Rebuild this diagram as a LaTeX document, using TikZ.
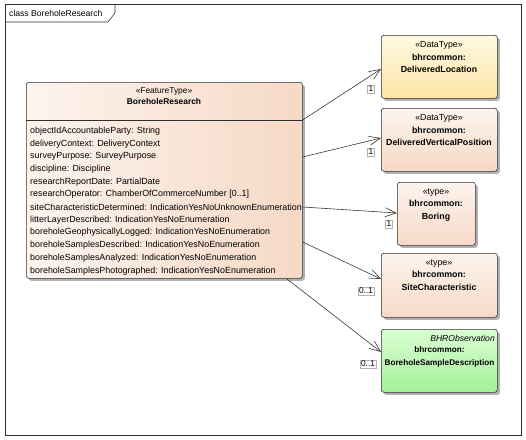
\documentclass[tikz,border=0pt]{standalone}
\usepackage{fontspec}
\setmainfont{Liberation Sans}
\usetikzlibrary{arrows.meta,shadows}
\definecolor{peachA}{HTML}{FDF4EE}
\definecolor{peachB}{HTML}{F6D9C6}
\definecolor{yelA}{HTML}{FFF9E2}
\definecolor{yelB}{HTML}{FBE5A4}
\definecolor{grnA}{HTML}{DAFFD4}
\definecolor{grnB}{HTML}{A4F098}
\definecolor{edge}{HTML}{303030}
\definecolor{conn}{HTML}{383838}
\tikzset{
  umlbox/.style={draw=edge, line width=0.6pt, rounded corners=2.5pt, anchor=north west, inner sep=0pt,
    drop shadow={shadow xshift=2.5pt, shadow yshift=-2.5pt, fill=black!30, opacity=1}},
  peachbox/.style={umlbox, top color=peachA, bottom color=peachB},
  yelbox/.style={umlbox, top color=yelA, bottom color=yelB},
  grnbox/.style={umlbox, top color=grnA, bottom color=grnB},
  attr/.style={anchor=west, inner sep=0pt, font=\fontsize{8.9}{10}\selectfont},
  hdr/.style={anchor=north, align=center, inner sep=0pt, font=\fontsize{8.8}{12.6}\selectfont},
  assoc/.style={draw=conn, line width=0.6pt, -{Straight Barb[length=11pt,width=9pt,line width=0.6pt]}},
  mult/.style={draw=black!30, line width=0.4pt, inner sep=1pt, font=\fontsize{8.4}{9}\selectfont}
}
\begin{document}
\begin{tikzpicture}[x=1pt,y=-1pt]
\useasboundingbox (0,0) rectangle (526,439);
% frame
\draw[line width=0.6pt, draw=edge] (5,4) rectangle (521,435);
\draw[line width=0.6pt, draw=edge] (5,22) -- (108,22) -- (115,13) -- (115,4);
\node[anchor=west, inner sep=0pt, font=\fontsize{8.6}{9}\selectfont] (title) at (9,13) {class BoreholeResearch};

% main class
\node[umlbox, left color=peachA, right color=peachB, minimum width=276pt, minimum height=196pt] (main) at (26,82) {};
\draw[line width=0.6pt, draw=edge] (main.west |- 0,120) -- (main.east |- 0,120);
\node[hdr, font=\fontsize{8.4}{10.5}\selectfont] (mainhdr) at (164,88) {«FeatureType»\\\textbf{BoreholeResearch}};
\node[attr] (a1) at (30,131) {objectIdAccountableParty: String};
\node[attr] (a2) at (30,143.7) {deliveryContext: DeliveryContext};
\node[attr] (a3) at (30,156.4) {surveyPurpose: SurveyPurpose};
\node[attr] (a4) at (30,169.1) {discipline: Discipline};
\node[attr] (a5) at (30,181.8) {researchReportDate: PartialDate};
\node[attr] (a6) at (30,194.5) {researchOperator: ChamberOfCommerceNumber [0..1]};
\node[attr] (a7) at (30,207.2) {siteCharacteristicDetermined: IndicationYesNoUnknownEnumeration};
\node[attr] (a8) at (30,219.9) {litterLayerDescribed: IndicationYesNoEnumeration};
\node[attr] (a9) at (30,232.6) {boreholeGeophysicallyLogged: IndicationYesNoEnumeration};
\node[attr] (a10) at (30,245.3) {boreholeSamplesDescribed: IndicationYesNoEnumeration};
\node[attr] (a11) at (30,258) {boreholeSamplesAnalyzed: IndicationYesNoEnumeration};
\node[attr] (a12) at (30,270.7) {boreholeSamplesPhotographed: IndicationYesNoEnumeration};

% right boxes
\node[yelbox, minimum width=116pt, minimum height=63pt] (dl) at (381,35) {};
\node[hdr] (dlt) at (439,41.5) {«DataType»\\\textbf{bhrcommon:}\\\textbf{DeliveredLocation}};

\node[peachbox, minimum width=116pt, minimum height=63pt] (dvp) at (381,108) {};
\node[hdr] (dvpt) at (439,114.5) {«DataType»\\\textbf{bhrcommon:}\\\textbf{DeliveredVerticalPosition}};

\node[peachbox, minimum width=78pt, minimum height=63pt] (bor) at (397,182) {};
\node[hdr] (bort) at (436,188.5) {«type»\\\textbf{bhrcommon:}\\\textbf{Boring}};

\node[peachbox, minimum width=116pt, minimum height=64pt] (sc) at (381,253) {};
\node[hdr] (sct) at (439,259.5) {«type»\\\textbf{bhrcommon:}\\\textbf{SiteCharacteristic}};

\node[grnbox, minimum width=116pt, minimum height=63pt] (bsd) at (381,329) {};
\node[anchor=east, inner sep=0pt, font=\fontsize{8.6}{9}\selectfont\itshape] (bsds) at (495,338) {BHRObservation};
\node[hdr, font=\fontsize{8.2}{12.6}\selectfont] (bsdt) at (439.5,346.5) {\textbf{bhrcommon:}\\\textbf{BoreholeSampleDescription}};

% connector start points on main box
\coordinate (s1) at (main.east |- 0,120);
\coordinate (s2) at (main.east |- 0,157);
\coordinate (s3) at (main.east |- 0,207);
\coordinate (s4) at (main.east |- 0,242);
\coordinate (s5) at (287,279);

\draw[assoc] (s1) -- (dl.west |- 0,69);
\draw[assoc] (s2) -- (dvp.west |- 0,138);
\draw[assoc] (s3) -- (bor.west |- 0,213);
\draw[assoc] (s4) -- (sc.west |- 0,279);
\draw[assoc] (s5) -- (bsd.west |- 0,352);

\node[mult] (m1) at (371,89) {1};
\node[mult] (m2) at (371,152) {1};
\node[mult] (m3) at (389,224) {1};
\node[mult] (m4) at (366,291) {0..1};
\node[mult] (m5) at (368,364) {0..1};
\end{tikzpicture}
\end{document}
